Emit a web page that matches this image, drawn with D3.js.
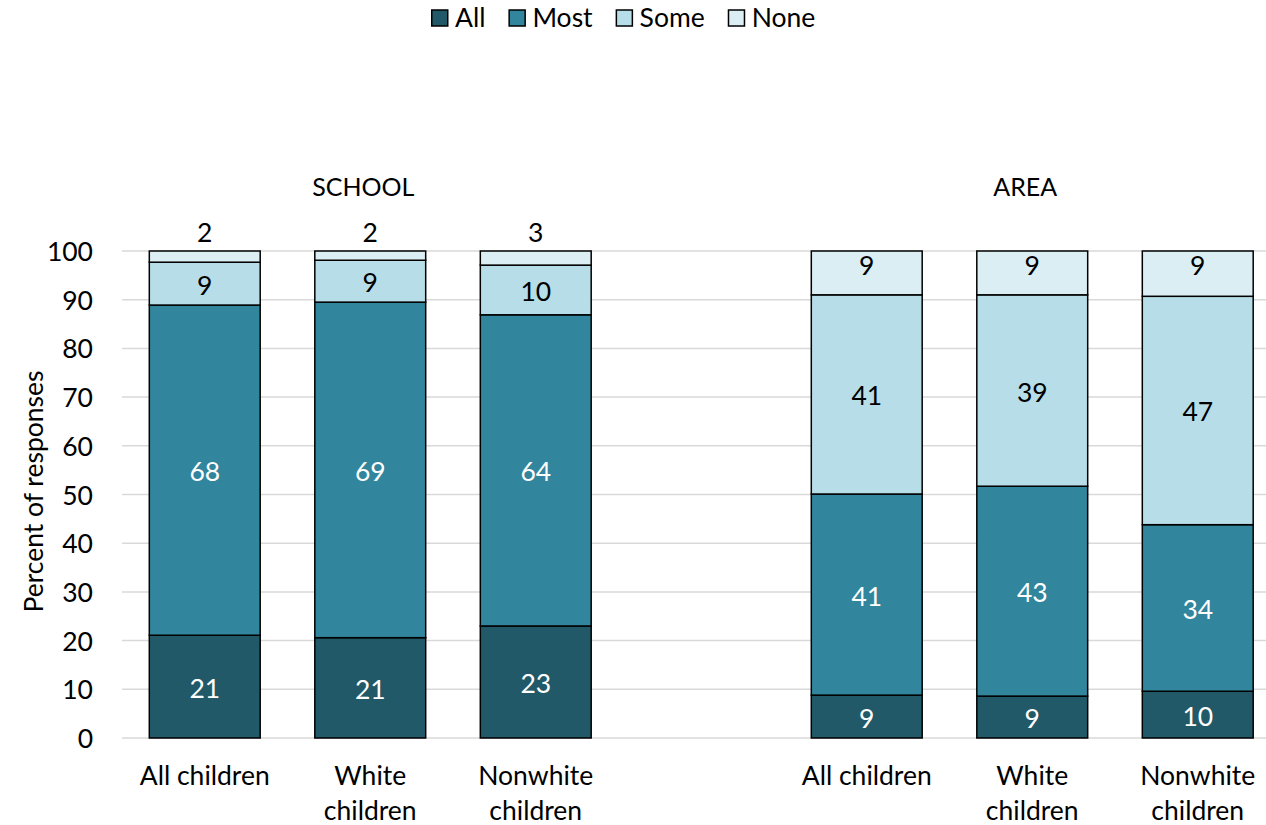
<!DOCTYPE html>
<html>
<head>
<meta charset="utf-8">
<script src="https://cdn.jsdelivr.net/npm/d3@7"></script>
<style>
  html, body { margin: 0; padding: 0; background: #fff; }
  svg text { font-family: Lato, "Open Sans", sans-serif; }
</style>
</head>
<body>
<svg id="chart" width="1266" height="825"></svg>
<script>
// Groups and the bars inside each group
const groups = ["SCHOOL", "AREA"];
const categories = [["All children"], ["White", "children"], ["Nonwhite", "children"]];
const seriesNames = ["All", "Most", "Some", "None"];
const seriesColors = ["#215968", "#31859C", "#B7DEE8", "#DAEEF3"];
const labelColors = ["#ffffff", "#ffffff", "#000000", "#000000"];

// Percent of responses, one value per bar (SCHOOL x3, then AREA x3)
const allValues  = [21.1, 20.6, 23.0, 8.8, 8.6, 9.6];
const mostValues = [67.8, 68.9, 63.9, 41.3, 43.1, 34.2];
const someValues = [8.8, 8.6, 10.2, 40.9, 39.3, 46.9];
const noneValues = [2.3, 1.9, 2.9, 9.0, 9.0, 9.3];

const yTicks = [0, 10, 20, 30, 40, 50, 60, 70, 80, 90, 100];

const seriesValues = [allValues, mostValues, someValues, noneValues];

// Build one row per bar, with an empty spacer slot between the groups
const bars = [];
groups.forEach((g, gi) => {
  categories.forEach((c, ci) => {
    const idx = gi * categories.length + ci;
    const row = { key: g + "-" + ci, group: g, lines: c, idx };
    seriesNames.forEach((s, si) => { row[s] = seriesValues[si][idx]; });
    bars.push(row);
  });
});
const slots = [];
groups.forEach((g, gi) => {
  if (gi > 0) slots.push("spacer-" + gi);
  categories.forEach((c, ci) => slots.push(g + "-" + ci));
});

const svg = d3.select("#chart");
const plotLeft = 122, plotTop = 251, plotBottom = 738;
const slotStep = 165.5;
const fontSize = 26.5;

const x = d3.scaleBand()
  .domain(slots)
  .range([plotLeft, plotLeft + slotStep * slots.length])
  .paddingInner(0.33)
  .paddingOuter(0.165);

const y = d3.scaleLinear().domain([0, 100]).range([plotBottom, plotTop]);

// Gridlines
svg.append("g")
  .selectAll("line")
  .data(yTicks)
  .join("line")
  .attr("x1", plotLeft)
  .attr("x2", 1266)
  .attr("y1", d => y(d))
  .attr("y2", d => y(d))
  .attr("stroke", "#d9d9d9")
  .attr("stroke-width", 1.5);

// Y axis tick labels
const yAxis = d3.axisLeft(y).tickValues(yTicks).tickSize(0).tickPadding(0);
const yg = svg.append("g").attr("transform", `translate(93,0)`).call(yAxis);
yg.select(".domain").remove();
yg.selectAll("text")
  .attr("font-size", fontSize)
  .attr("font-family", "Lato, 'Open Sans', sans-serif")
  .attr("fill", "#000")
  .attr("dy", "0.36em");

// Y axis title
svg.append("text")
  .attr("transform", `translate(43,${(plotTop + plotBottom) / 2 - 3}) rotate(-90)`)
  .attr("text-anchor", "middle")
  .attr("font-size", fontSize)
  .attr("fill", "#000")
  .text("Percent of responses");

// Stacked segments
const stack = d3.stack().keys(seriesNames);
const stacked = stack(bars);

const segLayer = svg.append("g");
stacked.forEach((layer, si) => {
  segLayer.append("g")
    .selectAll("rect")
    .data(layer)
    .join("rect")
    .attr("x", d => x(d.data.key))
    .attr("width", x.bandwidth())
    .attr("y", d => y(d[1]))
    .attr("height", d => y(d[0]) - y(d[1]))
    .attr("fill", seriesColors[si])
    .attr("stroke", "#000")
    .attr("stroke-width", 1.5);
});

// Value labels
const fmt = v => String(Math.round(v));
const labelLayer = svg.append("g");
stacked.forEach((layer, si) => {
  const isLast = si === seriesNames.length - 1;
  labelLayer.append("g")
    .selectAll("text")
    .data(layer)
    .join("text")
    .attr("x", d => x(d.data.key) + x.bandwidth() / 2)
    .attr("y", d => {
      const top = y(d[1]), bottom = y(d[0]);
      if (isLast) {
        // End-anchored label: inside the top of the bar, or above it when the piece is thin
        return (bottom - top) < 25 ? top - 9 : top + 24;
      }
      return (top + bottom) / 2 + 11;
    })
    .attr("text-anchor", "middle")
    .attr("font-size", fontSize)
    .attr("fill", (d) => {
      const top = y(d[1]), bottom = y(d[0]);
      return (isLast && (bottom - top) < 25) ? "#000" : labelColors[si];
    })
    .text(d => fmt(d[1] - d[0]));
});

// Category labels
const catLayer = svg.append("g");
bars.forEach(b => {
  const t = catLayer.append("text")
    .attr("x", x(b.key) + x.bandwidth() / 2)
    .attr("y", 785)
    .attr("text-anchor", "middle")
    .attr("font-size", fontSize)
    .attr("fill", "#000");
  b.lines.forEach((ln, i) => {
    t.append("tspan")
      .attr("x", x(b.key) + x.bandwidth() / 2)
      .attr("dy", i === 0 ? 0 : 35)
      .text(ln);
  });
});

// Group titles above each set of bars
groups.forEach((g, gi) => {
  const mid = g + "-1";
  svg.append("text")
    .attr("x", x(mid) + x.bandwidth() / 2 - 7)
    .attr("y", 196)
    .attr("text-anchor", "middle")
    .attr("font-size", 25)
    .attr("fill", "#000")
    .text(g);
});

// Legend
const legend = svg.append("g");
let lx = 431;
seriesNames.forEach((s, si) => {
  legend.append("rect")
    .attr("x", lx + 0.75)
    .attr("y", 10)
    .attr("width", 16)
    .attr("height", 16)
    .attr("fill", seriesColors[si])
    .attr("stroke", "#000")
    .attr("stroke-width", 1.5);
  const t = legend.append("text")
    .attr("x", lx + 24)
    .attr("y", 27)
    .attr("font-size", fontSize)
    .attr("fill", "#000")
    .text(s);
  lx += 24 + t.node().getComputedTextLength() + 23;
});
</script>
</body>
</html>
